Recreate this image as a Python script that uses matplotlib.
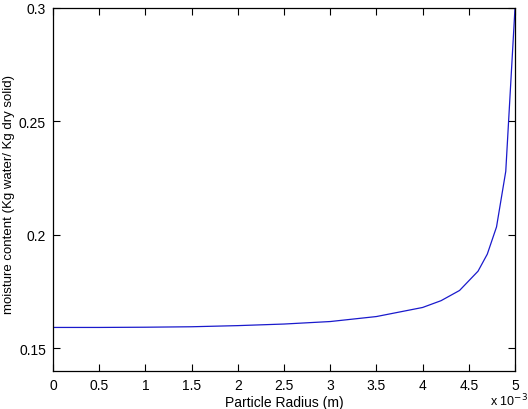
import numpy as np
import matplotlib
matplotlib.use('Agg')
import matplotlib.pyplot as plt

# particle radius (in 1e-3 m) and moisture content
radius = [0.0, 0.5, 1.0, 1.5, 2.0, 2.5, 3.0, 3.5, 4.0, 4.2, 4.4, 4.6, 4.7, 4.8, 4.9, 5.0]
moisture = [0.1592, 0.1592, 0.1593, 0.1595, 0.1600, 0.1607, 0.1618, 0.1640, 0.1680,
            0.1710, 0.1755, 0.1840, 0.1915, 0.2035, 0.2280, 0.3000]
xticks = [0, 0.5, 1, 1.5, 2, 2.5, 3, 3.5, 4, 4.5, 5]
yticks = [0.15, 0.2, 0.25, 0.3]

plt.rcParams['font.family'] = ['Liberation Sans', 'DejaVu Sans']

fig = plt.figure(figsize=(5.28, 4.10), dpi=100)
ax = fig.add_axes([53/528, 38/410, 462/528, 363/410])
ax.plot(radius, moisture, color='#1a1acc', linewidth=0.9)
ax.set_xlim(0, 5)
ax.set_ylim(0.14, 0.3)
ax.set_xticks(xticks)
ax.set_xticklabels([f'{t:g}' for t in xticks])
ax.set_yticks(yticks)
ax.set_yticklabels([f'{t:g}' for t in yticks])
ax.tick_params(direction='in', top=True, right=True, labelsize=10, length=5, width=0.8, pad=5)
for s in ax.spines.values():
    s.set_linewidth(0.9)
ax.set_xlabel('Particle Radius (m)', fontsize=10, labelpad=2)
ax.set_ylabel('moisture content (Kg water/ Kg dry solid)', fontsize=9.5)
ax.yaxis.set_label_coords(-0.083, 0.49)
fig.text(490/528, 1/410, 'x 10$^{-3}$', fontsize=9, ha='left', va='bottom')

fig.savefig('out.png', dpi=100)
